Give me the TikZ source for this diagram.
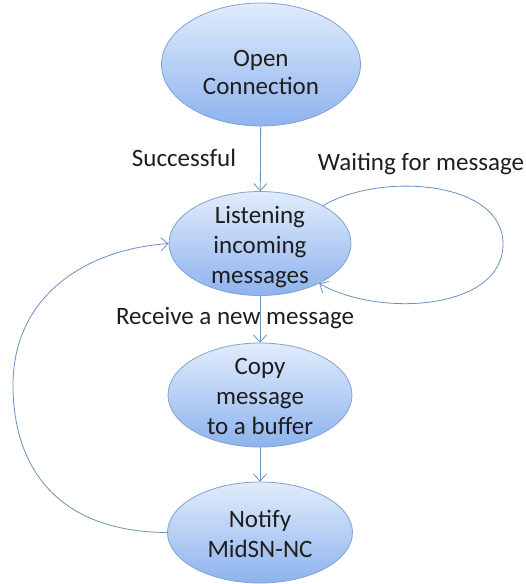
\documentclass[tikz,border=0pt]{standalone}
\usepackage{fontspec}
\setmainfont{Carlito}
\usetikzlibrary{shapes.geometric,arrows.meta}
\definecolor{edgeblue}{HTML}{6A90BE}
\definecolor{rimblue}{HTML}{7FA3D3}
\definecolor{topblue}{HTML}{E1ECFC}
\definecolor{botblue}{HTML}{8DB3EE}
\definecolor{inkgrey}{HTML}{1E1E1E}
\tikzset{
  state/.style={ellipse, draw=rimblue, line width=0.8pt,
    top color=topblue, bottom color=botblue, inner sep=0pt},
  statetext/.style={align=center, text=inkgrey, inner sep=0pt,
    font=\fontsize{25}{30}\selectfont},
  flow/.style={draw=edgeblue, line width=0.8pt,
    -{Straight Barb[length=7pt,width=13pt,line width=0.8pt]}},
  tag/.style={text=inkgrey, font=\fontsize{25}{30}\selectfont, inner sep=0pt}
}
\begin{document}
\begin{tikzpicture}[x=1pt,y=-1pt]
  \useasboundingbox (0,0) rectangle (526,584);

  % states
  \node[state, minimum width=199pt, minimum height=123pt] (open) at (261,64.5) {};
  \node[state, minimum width=182pt, minimum height=104pt] (listen) at (260,243.5) {};
  \node[state, minimum width=184pt, minimum height=104pt] (copy) at (260,395) {};
  \node[state, minimum width=185pt, minimum height=101pt] (notify) at (260,532.5) {};

  % state texts (set a little low in the upper states)
  \node[statetext, font=\fontsize{25}{28}\selectfont] (opentext)
    at ([yshift=-8pt]open.center) {Open\\Connection};
  \node[statetext] (listentext) at ([yshift=-4pt]listen.center)
    {Listening\\incoming\\messages};
  \node[statetext] (copytext) at ([yshift=-1pt]copy.center)
    {Copy\\message\\to a buffer};
  \node[statetext] (notifytext) at ([yshift=-1pt]notify.center)
    {Notify\\MidSN-NC};

  % transition labels
  \node[tag] (lsucc) at (184,158) {Successful};
  \node[tag] (lwait) at (421,164) {Waiting for message};
  \node[tag] (lrecv) at (235,318) {Receive a new message};

  % straight transitions
  \draw[flow] (open) -- (listen);
  \draw[flow] (listen) -- (copy);
  \draw[flow] (copy) -- (notify);

  % self loop while waiting
  \coordinate (loopright) at (503,244);
  \draw[flow] (listen.31) .. controls (380,172) and (503,180) .. (loopright)
    .. controls (503,310) and (380,318) .. (listen.-34);

  % return loop after notification
  \coordinate (loopleft) at (13,385);
  \draw[flow] (notify.west) .. controls (60,532) and (13,470) .. (loopleft)
    .. controls (13,300) and (80,250) .. (listen.west);
\end{tikzpicture}
\end{document}
